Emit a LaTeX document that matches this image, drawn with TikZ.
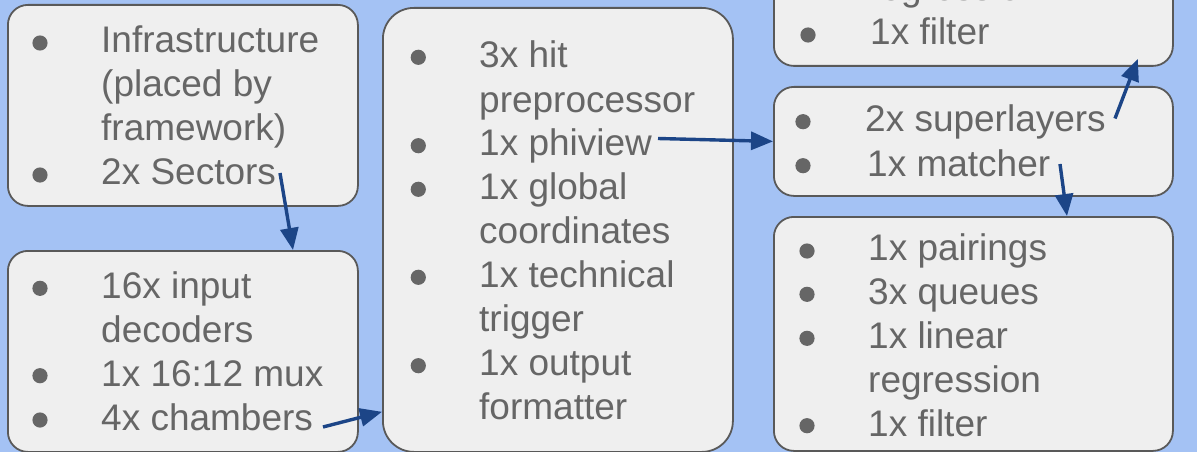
\documentclass[tikz,border=0pt]{standalone}
\usepackage{fontspec}
\setmainfont{Liberation Sans}
\usetikzlibrary{arrows.meta}
\definecolor{bg}{HTML}{A4C2F4}
\definecolor{boxfill}{HTML}{EFEFEF}
\definecolor{boxline}{HTML}{595959}
\definecolor{txt}{HTML}{666666}
\definecolor{arrowblue}{HTML}{1C4587}
\tikzset{
  box/.style={draw=boxline, line width=1.8pt, fill=boxfill, rounded corners=20pt, anchor=north west, inner sep=0pt},
  item/.style={anchor=base west, inner sep=0pt, text=txt, font=\fontsize{37}{44}\selectfont},
  bul/.style={fill=txt},
  arr/.style={draw=arrowblue, line width=3.4pt, -{Triangle[length=22pt,width=18pt]}}
}
\begin{document}
\begin{tikzpicture}[x=1pt,y=-1pt]
\useasboundingbox (0,0) rectangle (1197,452);
\clip (0,0) rectangle (1197,452);
\fill[bg] (0,0) rectangle (1197,452);
% boxes
\node[box, minimum width=350pt, minimum height=201pt] (A) at (7,4) {};
\node[box, minimum width=350pt, minimum height=201pt] (B) at (7,250) {};
\node[box, rounded corners=31pt, minimum width=350pt, minimum height=444pt] (C) at (382,7) {};
\node[box, minimum width=399pt, minimum height=265pt] (D) at (773,-200) {};
\node[box, minimum width=399pt, minimum height=109pt] (E) at (773,86) {};
\node[box, minimum width=399pt, minimum height=234pt] (F) at (773,216) {};
% box A
\fill[bul] (40,43) circle[radius=7.6pt];
\fill[bul] (40,175) circle[radius=7.6pt];
\node[item] (a1) at (101,52.7) {Infrastructure};
\node[item] (a2) at (101,96.5) {(placed by};
\node[item] (a3) at (101,140.3) {framework)};
\node[item] (a4) at (101,184) {2x Sectors};
% box B
\fill[bul] (40,288.3) circle[radius=7.6pt];
\fill[bul] (40,375.7) circle[radius=7.6pt];
\fill[bul] (40,420) circle[radius=7.6pt];
\node[item] (b1) at (101,298) {16x input};
\node[item] (b2) at (101,342) {decoders};
\node[item] (b3) at (101,386) {1x 16:12 mux};
\node[item] (b4) at (101,430) {4x chambers};
% box C
\fill[bul] (418.3,57.3) circle[radius=7.6pt];
\fill[bul] (418.3,145.7) circle[radius=7.6pt];
\fill[bul] (418.3,189.3) circle[radius=7.6pt];
\fill[bul] (418.3,277.3) circle[radius=7.6pt];
\fill[bul] (418.3,365.7) circle[radius=7.6pt];
\node[item] (c1) at (479,68) {3x hit};
\node[item] (c2) at (479,112) {preprocessor};
\node[item] (c3) at (479,155.5) {1x phiview};
\node[item] (c4) at (479,199.5) {1x global};
\node[item] (c5) at (479,243.5) {coordinates};
\node[item] (c6) at (479,287.5) {1x technical};
\node[item] (c7) at (479,331.5) {trigger};
\node[item] (c8) at (479,375.5) {1x output};
\node[item] (c9) at (479,419.5) {formatter};
% box D
\fill[bul] (808,35) circle[radius=7.6pt];
\node[item] (d1) at (868,1) {regression};
\node[item] (d2) at (870,45) {1x filter};
% box E
\fill[bul] (803,121.7) circle[radius=7.6pt];
\fill[bul] (803,165.7) circle[radius=7.6pt];
\node[item] (e1) at (865,131.7) {2x superlayers};
\node[item] (e2) at (867,176) {1x matcher};
% box F
\fill[bul] (807,251) circle[radius=7.6pt];
\fill[bul] (807,294.3) circle[radius=7.6pt];
\fill[bul] (807,338.3) circle[radius=7.6pt];
\fill[bul] (807,425.7) circle[radius=7.6pt];
\node[item] (f1) at (868,260) {1x pairings};
\node[item] (f2) at (868,304) {3x queues};
\node[item] (f3) at (868,348) {1x linear};
\node[item] (f4) at (868,392) {regression};
\node[item] (f5) at (868,436) {1x filter};
% arrow start points
\coordinate (s1) at (280,173);
\coordinate (s2) at (323,427);
\coordinate (s3) at (658,138.5);
\coordinate (s4) at (1115,118.5);
\coordinate (s5) at (1060,164);
% arrows
\draw[arr] (s1) -- ([xshift=286pt]B.north west);
\draw[arr] (s2) -- ([yshift=41pt]C.south west);
\draw[arr] (s3) -- (E.west);
\draw[arr] (s4) -- ([xshift=-36pt,yshift=8pt]D.south east);
\draw[arr] (s5) -- ([xshift=294pt]F.north west);
\end{tikzpicture}
\end{document}
